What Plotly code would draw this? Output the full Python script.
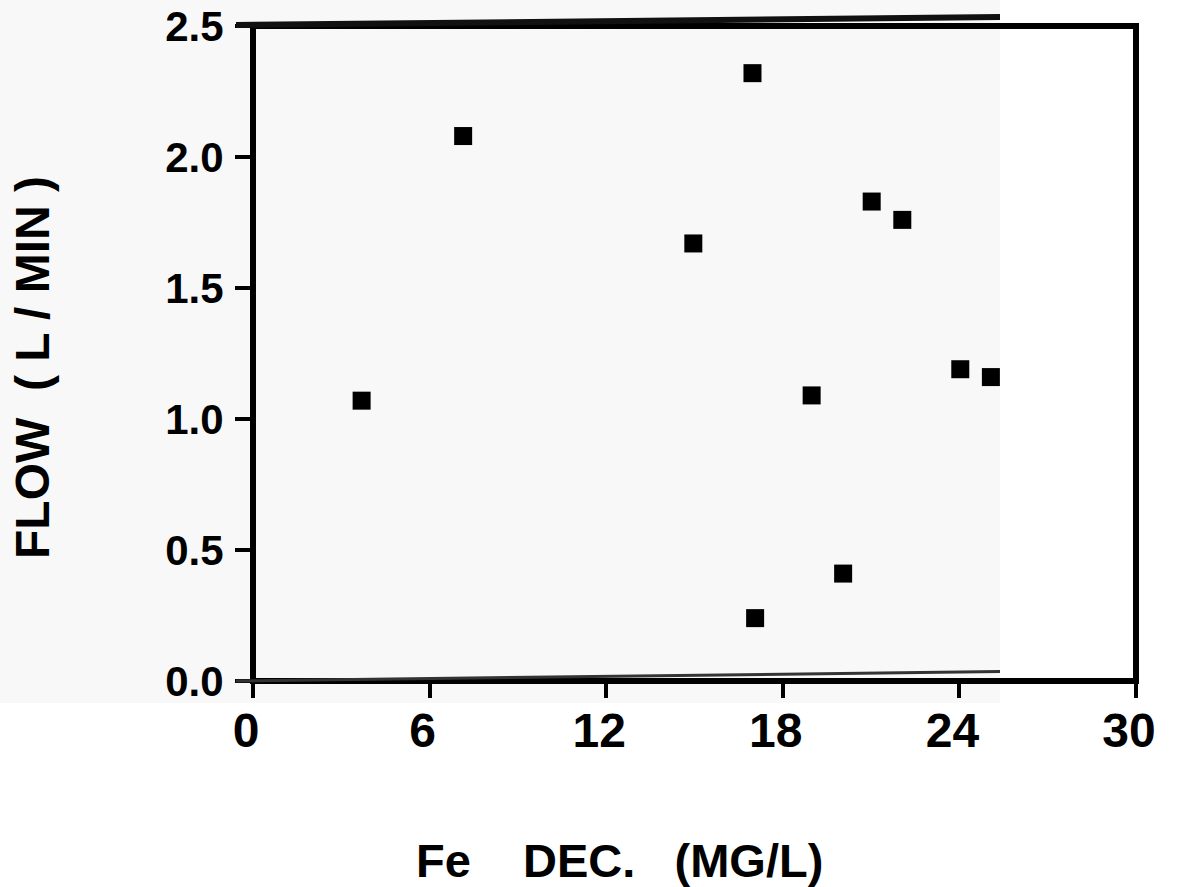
import plotly.graph_objects as go

# Iron (decrease) versus flow measurements
fe_dec = [3.69, 7.14, 16.97, 14.96, 21.02, 22.06, 24.03, 25.07, 18.98, 20.05, 17.06]
flow = [1.07, 2.08, 2.32, 1.67, 1.83, 1.76, 1.19, 1.16, 1.09, 0.41, 0.24]

x_ticks = [0, 6, 12, 18, 24, 30]
x_tick_text = ["0", "6", "12", "18", "24", "30"]
y_ticks = [0.0, 0.5, 1.0, 1.5, 2.0, 2.5]
y_tick_text = ["0.0", "0.5", "1.0", "1.5", "2.0", "2.5"]

x_title = "Fe\u00a0\u00a0\u00a0 DEC.\u00a0\u00a0 (MG/L)"
y_title = "FLOW\u00a0 ( L / MIN )"

FONT = "Liberation Sans, Arial, Helvetica, sans-serif"

# plot area in pixels, used to place the paper-tone panel, edge strokes and titles
L, R, T, B = 253, 1136, 26, 681
W, H = R - L, B - T


def px(x):
    return (x - L) / W


def py(y):
    return (B - y) / H


fig = go.Figure()
fig.add_trace(go.Scatter(
    x=fe_dec, y=flow, mode="markers",
    marker=dict(symbol="square", size=18, color="black", line=dict(width=0)),
    showlegend=False, hoverinfo="x+y",
))

shapes = [
    # faint paper tone behind the left part of the figure
    dict(type="rect", xref="paper", yref="paper", layer="below",
         x0=px(0), x1=px(1000), y0=py(703), y1=py(0),
         fillcolor="#f8f8f8", line=dict(width=0)),
    # heavy frame around the plotting area
    dict(type="rect", xref="paper", yref="paper", layer="above",
         x0=0, x1=1, y0=0, y1=1, line=dict(color="black", width=6)),
    # printed top and bottom rules of the panel
    dict(type="line", xref="paper", yref="paper", layer="above",
         x0=px(236), x1=px(1000), y0=py(25), y1=py(17),
         line=dict(color="#111111", width=6)),
    dict(type="line", xref="paper", yref="paper", layer="above",
         x0=px(236), x1=px(1000), y0=py(681), y1=py(671.5),
         line=dict(color="#333333", width=3)),
]

annotations = [
    dict(text=x_title, xref="paper", yref="paper", x=px(619), y=py(860),
         xanchor="center", yanchor="middle", showarrow=False,
         font=dict(size=47, weight="bold", family=FONT, color="black")),
    dict(text=y_title, xref="paper", yref="paper", x=px(32), y=py(368),
         xanchor="center", yanchor="middle", showarrow=False, textangle=-90,
         font=dict(size=48, weight="bold", family=FONT, color="black")),
]

fig.update_layout(
    width=1177, height=887,
    margin=dict(l=L, r=1177 - R, t=T, b=887 - B, pad=0, autoexpand=False),
    paper_bgcolor="white", plot_bgcolor="rgba(0,0,0,0)",
    shapes=shapes, annotations=annotations,
    font=dict(family=FONT, color="black"),
    xaxis=dict(
        range=[0, 30], tickvals=x_ticks, ticktext=x_tick_text,
        showgrid=False, zeroline=False, automargin=False, showline=False,
        ticks="outside", ticklen=16, tickwidth=4, tickcolor="black",
        tickfont=dict(size=48, weight="bold", family=FONT),
        ticklabelstandoff=-9, ticklabelshift=-7,
    ),
    yaxis=dict(
        range=[0, 2.5], tickvals=y_ticks, ticktext=y_tick_text,
        showgrid=False, zeroline=False, automargin=False, showline=False,
        ticks="outside", ticklen=17, tickwidth=4, tickcolor="black",
        tickfont=dict(size=42, weight="bold", family=FONT),
        ticklabelstandoff=3,
    ),
)

fig.write_html("out.html")
